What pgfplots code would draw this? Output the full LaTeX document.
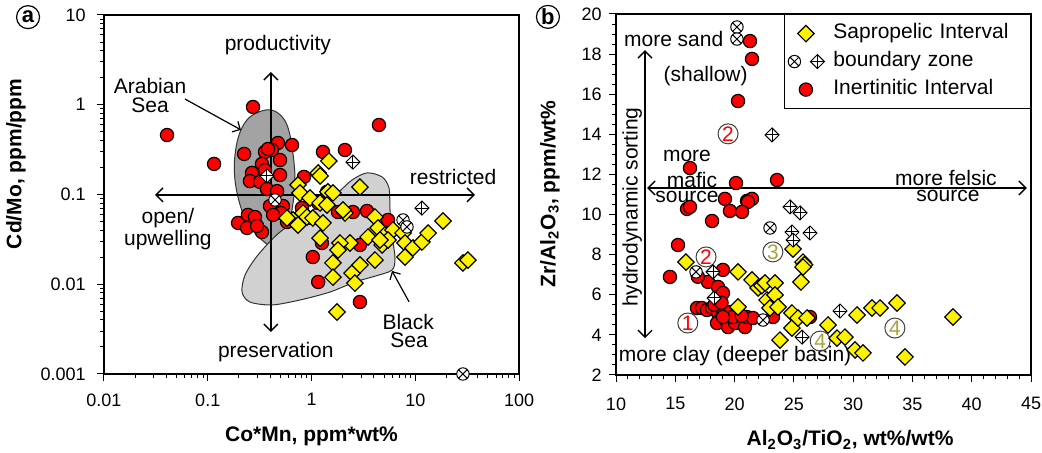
\documentclass[border=0pt]{standalone}
\usepackage{fontspec}
\setmainfont{Liberation Sans}
\usepackage{pgfplots}
\pgfplotsset{compat=1.18}
\usetikzlibrary{arrows.meta,plotmarks}

\definecolor{arabfield}{gray}{0.64}
\definecolor{bsfield}{gray}{0.82}
\definecolor{numolive}{RGB}{165,165,60}

% diamond drawn as a square turned on its corner
\pgfdeclareplotmark{dmd}{%
  \pgfpathmoveto{\pgfqpoint{0pt}{\pgfplotmarksize}}%
  \pgfpathlineto{\pgfqpoint{\pgfplotmarksize}{0pt}}%
  \pgfpathlineto{\pgfqpoint{0pt}{-\pgfplotmarksize}}%
  \pgfpathlineto{\pgfqpoint{-\pgfplotmarksize}{0pt}}%
  \pgfpathclose
  \pgfusepathqfillstroke}
% same diamond with a cross through the corners
\pgfdeclareplotmark{dplus}{%
  \pgfpathmoveto{\pgfqpoint{0pt}{\pgfplotmarksize}}%
  \pgfpathlineto{\pgfqpoint{\pgfplotmarksize}{0pt}}%
  \pgfpathlineto{\pgfqpoint{0pt}{-\pgfplotmarksize}}%
  \pgfpathlineto{\pgfqpoint{-\pgfplotmarksize}{0pt}}%
  \pgfpathclose
  \pgfusepathqfillstroke
  \pgfpathmoveto{\pgfqpoint{0pt}{\pgfplotmarksize}}%
  \pgfpathlineto{\pgfqpoint{0pt}{-\pgfplotmarksize}}%
  \pgfpathmoveto{\pgfqpoint{-\pgfplotmarksize}{0pt}}%
  \pgfpathlineto{\pgfqpoint{\pgfplotmarksize}{0pt}}%
  \pgfusepathqstroke}

\pgfplotsset{
  panel/.style={
    scale only axis, clip=false,
    axis line style={line width=0.8pt},
    tick align=outside, xtick pos=left, ytick pos=left,
    major tick length=3.7pt, minor tick length=2pt,
    every tick/.style={black, line width=0.5pt},
    tick label style={font=\fontsize{9}{10}\selectfont},
    /pgf/number format/assume math mode=true,
    label style={font=\bfseries\fontsize{10.5}{12}\selectfont},
  },
  inert/.style={only marks, mark=*, mark size=3.3pt,
    mark options={fill=red, draw=black, line width=0.6pt}},
  sapro/.style={only marks, mark=dmd, mark size=4.1pt,
    mark options={fill=yellow, draw=black, line width=0.6pt}},
  bzcirc/.style={only marks, mark=otimes*, mark size=3.1pt,
    mark options={fill=white, draw=black, line width=0.5pt}},
  bzdmd/.style={only marks, mark=dplus, mark size=3.5pt,
    mark options={fill=white, draw=black, line width=0.5pt}},
}

\tikzset{
  ann/.style={font=\fontsize{10.5}{11}\selectfont, inner sep=0pt},
  arr/.style={line width=0.7pt, {Straight Barb[length=3.5pt,width=7pt]}-{Straight Barb[length=3.5pt,width=7pt]}},
  num/.style={circle, draw=black!75, line width=0.5pt, minimum size=10pt, inner sep=0pt,
    font=\fontsize{10.5}{10.5}\selectfont},
  plab/.style={circle, draw=black, line width=0.6pt, minimum size=11.5pt, inner sep=0pt,
    font=\bfseries\fontsize{11}{11}\selectfont},
}

\begin{document}
\begin{tikzpicture}
\useasboundingbox (-52pt,-39.5pt) rectangle (469pt,187pt);

% ---------------- panel a ----------------
\begin{axis}[panel,
  at={(0pt,0pt)}, anchor=south west,
  width=207.5pt, height=179.5pt,
  xmode=log, ymode=log,
  xmin=0.01, xmax=100, ymin=0.001, ymax=10,
  xtick={0.01,0.1,1,10,100}, xticklabels={0.01,0.1,1,10,100},
  ytick={0.001,0.01,0.1,1,10}, yticklabels={0.001,0.01,0.1,1,10},
  xticklabel style={yshift=-2.5pt},
  yticklabel style={xshift=-2pt},
  xlabel={Co*Mn, ppm*wt\%},
  ylabel={Cd/Mo, ppm/ppm},
  xlabel style={at={(axis description cs:0.5,-0.175)}, anchor=center},
  ylabel style={at={(axis description cs:-0.212,0.585)}, anchor=center},
]
% Arabian Sea field
\draw[fill=arabfield, draw=black!80, line width=0.5pt] plot[smooth cycle, tension=0.6] coordinates {
  (axis cs:0.364,0.875) (axis cs:0.475,0.809) (axis cs:0.581,0.595) (axis cs:0.649,0.339)
  (axis cs:0.693,0.157) (axis cs:0.664,0.0804) (axis cs:0.581,0.0402) (axis cs:0.445,0.026)
  (axis cs:0.333,0.0311) (axis cs:0.244,0.0469) (axis cs:0.205,0.0764) (axis cs:0.183,0.145)
  (axis cs:0.183,0.275) (axis cs:0.205,0.497) (axis cs:0.255,0.73)};
% Black Sea field
\draw[fill=bsfield, draw=black!80, line width=0.5pt] plot[smooth cycle, tension=0.5] coordinates {
  (axis cs:3.43,0.174) (axis cs:4.79,0.157) (axis cs:5.58,0.118) (axis cs:5.71,0.0672)
  (axis cs:5.97,0.0354) (axis cs:6.38,0.0196) (axis cs:5.97,0.0144) (axis cs:4.09,0.0123)
  (axis cs:2.62,0.0106) (axis cs:1.51,0.0082) (axis cs:0.775,0.00668) (axis cs:0.416,0.00588)
  (axis cs:0.255,0.00634) (axis cs:0.214,0.0082) (axis cs:0.229,0.0127) (axis cs:0.305,0.0212)
  (axis cs:0.497,0.0382) (axis cs:0.968,0.0638) (axis cs:1.69,0.099) (axis cs:2.46,0.145)};

\addplot[inert] coordinates {
(0.0405,0.46) (0.115,0.219) (0.273,0.944) (4.47,0.595) (0.224,0.283) (0.475,0.375)
(0.649,0.356) (0.356,0.298) (0.416,0.313) (0.381,0.321) (0.497,0.242) (0.333,0.219)
(0.267,0.174) (0.255,0.141) (0.497,0.165) (0.319,0.138) (0.372,0.115) (0.466,0.109)
(0.356,0.187) (0.398,0.0744) (0.531,0.0744) (0.508,0.0622) (0.581,0.0494) (0.426,0.0592)
(0.196,0.0482) (0.244,0.0592) (0.285,0.0561) (0.239,0.0424) (0.333,0.0382) (0.299,0.0446)
(1.29,0.298) (2.10,0.313) (0.846,0.157) (1.41,0.107) (1.16,0.0804) (0.809,0.0708)
(1.01,0.0547) (1.80,0.0638) (2.51,0.0638) (3.43,0.0655) (5.46,0.052) (1.26,0.0288)
(1.03,0.0201) (2.93,0.0274) (1.16,0.0106) (2.93,0.00634)
};
\addplot[sapro] coordinates {
(1.47,0.236) (1.16,0.174) (1.21,0.161) (2.93,0.121) (0.741,0.128) (0.775,0.104)
(0.968,0.0914) (1.44,0.107) (1.61,0.104) (1.21,0.0804) (0.828,0.0622) (0.664,0.052)
(0.906,0.0561) (1.03,0.0547) (1.29,0.0482) (2.10,0.0622) (2.01,0.0672) (4.09,0.0561)
(4.38,0.0424) (5.11,0.0354) (6.10,0.0402) (3.51,0.0336) (2.35,0.0288) (1.88,0.0288)
(1.21,0.0327) (1.80,0.0241) (4.79,0.0274) (5.46,0.0311) (7.62,0.0372) (7.96,0.0288)
(9.5,0.0254) (7.96,0.0201) (11.6,0.0296) (13.3,0.0372) (18.5,0.0507) (1.61,0.0173)
(2.46,0.0133) (2.93,0.0164) (4.09,0.0186) (1.61,0.012) (2.62,0.0103) (1.76,0.00491)
(28.8,0.0173) (32.2,0.0186) (0.581,0.0547) (1.41,0.0764) (0.741,0.0457) (4.57,0.0311)
};
\addplot[bzcirc] coordinates {(0.445,0.0869) (7.62,0.052) (8.32,0.0435) (28.8,0.001)};
\addplot[bzdmd] coordinates {(0.372,0.161) (2.51,0.230) (11.6,0.0706)};

% process arrows and labels
\draw[arr] (rel axis cs:0.402,0.841) -- (rel axis cs:0.402,0.117);
\draw[arr] (rel axis cs:0.123,0.499) -- (rel axis cs:0.894,0.499);
\node[ann] at (rel axis cs:0.419,0.916) {productivity};
\node[ann] at (rel axis cs:0.841,0.549) {restricted};
\node[ann] at (rel axis cs:0.154,0.435) {open/};
\node[ann] at (rel axis cs:0.154,0.373) {upwelling};
\node[ann] at (rel axis cs:0.414,0.061) {preservation};
\node[ann] at (rel axis cs:0.111,0.802) {Arabian};
\node[ann] at (rel axis cs:0.111,0.749) {Sea};
\node[ann] at (rel axis cs:0.733,0.145) {Black};
\node[ann] at (rel axis cs:0.735,0.095) {Sea};
\draw[line width=0.6pt, -{Straight Barb[length=3pt,width=6pt]}] (rel axis cs:0.195,0.766) -- (rel axis cs:0.330,0.680);
\draw[line width=0.6pt, -{Straight Barb[length=3pt,width=6pt]}] (rel axis cs:0.735,0.201) -- (rel axis cs:0.694,0.287);
\node[plab] at (rel axis cs:-0.183,0.994) {a};
\end{axis}

% ---------------- panel b ----------------
\begin{axis}[panel,
  at={(256pt,-0.5pt)}, anchor=south west,
  width=207.5pt, height=180.5pt,
  xmin=10, xmax=45, ymin=2, ymax=20,
  xtick={10,15,...,45}, ytick={2,4,...,20},
  minor x tick num=4, minor y tick num=3,
  xticklabel style={yshift=-4pt},
  xlabel={Al\textsubscript{2}O\textsubscript{3}/TiO\textsubscript{2}, wt\%/wt\%},
  ylabel={Zr/Al\textsubscript{2}O\textsubscript{3}, ppm/wt\%},
  xlabel style={at={(axis description cs:0.564,-0.180)}, anchor=center},
  ylabel style={at={(axis description cs:-0.159,0.501)}, anchor=center},
  legend style={at={(1,1)}, anchor=north east, draw=black, line width=0.6pt,
    inner xsep=2pt, inner ysep=2.5pt, row sep=0pt, column sep=1pt,
    font=\fontsize{10.5}{12}\selectfont,
    nodes={text height=7.5pt, text depth=2.5pt, inner ysep=2pt, inner xsep=3.5pt, text width=93pt, align=left}},
  legend cell align=left,
]
\addlegendimage{legend image code/.code={
  \draw plot[only marks, mark=dmd, mark size=4.1pt, mark options={fill=yellow, draw=black, line width=0.6pt}] coordinates {(0pt,0pt)};}}
\addlegendentry{Sapropelic Interval}
\addlegendimage{legend image code/.code={
  \draw plot[only marks, mark=otimes*, mark size=3.1pt, mark options={fill=white, draw=black, line width=0.5pt}] coordinates {(-5.75pt,0pt)};
  \draw plot[only marks, mark=dplus, mark size=3.5pt, mark options={fill=white, draw=black, line width=0.5pt}] coordinates {(5.75pt,0pt)};}}
\addlegendentry{boundary zone}
\addlegendimage{legend image code/.code={
  \draw plot[only marks, mark=*, mark size=3.3pt, mark options={fill=red, draw=black, line width=0.6pt}] coordinates {(0pt,0pt)};}}
\addlegendentry{Inertinitic Interval}

\addplot[inert, forget plot] coordinates {
(21.30,18.65) (21.47,17.76) (20.29,15.66) (16.24,12.32) (20.12,11.57) (23.58,11.72)
(19.19,10.78) (21.05,10.68) (21.47,10.78) (21.13,10.63) (19.61,10.18) (20.63,10.13)
(15.99,10.28) (16.24,10.38) (18.10,9.68) (15.23,8.48) (14.55,6.89) (19.02,7.24)
(17.76,6.64) (18.60,6.39) (19.02,6.09) (16.9,6.9) (16.83,5.34) (17.25,5.34) (17.67,5.24)
(18.10,5.34) (18.60,5.09) (19.02,5.24) (19.61,5.14) (20.20,5.09) (18.77,4.74)
(18.52,4.59) (19.36,4.64) (19.45,4.39) (20.04,4.59) (20.88,4.39) (21.05,4.89)
(21.55,4.84) (19.87,4.89) (19.02,4.89) (18.3,5.5) (18.9,5.6) (20.6,4.95)
(23.24,4.89) (26.36,4.89)
};
\addplot[sapro, forget plot] coordinates {
(15.90,7.63) (20.29,7.14) (21.47,6.74) (21.98,6.34) (22.3,6.45) (22.57,6.59) (23.41,6.59)
(22.74,5.74) (23.41,5.99) (22.99,5.34) (23.66,5.39) (20.29,5.39) (23.83,3.74)
(24.84,5.09) (24.84,4.34) (25.35,4.84) (26.11,4.84) (24.93,8.28) (25.77,7.63)
(25.9,7.5) (25.77,7.38) (25.6,6.64) (27.88,4.49) (28.64,3.84) (29.31,3.89) (30.33,4.99)
(30.16,3.25) (30.83,3.10) (31.59,5.34) (32.27,5.34) (33.70,5.59) (34.37,2.90)
(38.42,4.89)
};
\addplot[bzcirc, forget plot] coordinates {
(20.20,19.35) (20.20,18.75) (16.75,7.14) (22.40,4.74) (22.99,9.33)
};
\addplot[bzdmd, forget plot] coordinates {
(23.16,13.97) (24.68,10.38) (25.52,10.08) (24.84,9.13) (26.36,9.08) (24.93,8.73)
(28.89,5.19) (25.69,3.89) (18.18,7.14) (18.27,5.84)
};

\draw[arr] (rel axis cs:0.070,0.900) -- (rel axis cs:0.070,0.102);
\draw[arr] (rel axis cs:0.075,0.518) -- (rel axis cs:0.990,0.518);
\node[ann] at (rel axis cs:0.139,0.931) {more sand};
\node[ann] at (rel axis cs:0.216,0.828) {(shallow)};
\node[ann] at (rel axis cs:0.171,0.607) {more};
\node[ann] at (rel axis cs:0.183,0.540) {mafic};
\node[ann] at (rel axis cs:0.171,0.493) {source};
\node[ann] at (rel axis cs:0.795,0.546) {more felsic};
\node[ann] at (rel axis cs:0.800,0.496) {source};
\node[ann] at (rel axis cs:0.287,0.053) {more clay (deeper basin)};
\node[ann, rotate=90] at (rel axis cs:0.039,0.465) {hydrodynamic sorting};
\node[num, text=red] at (rel axis cs:0.270,0.668) {2};
\node[num, text=red] at (rel axis cs:0.217,0.327) {2};
\node[num, text=red] at (rel axis cs:0.173,0.144) {1};
\node[num, text=numolive] at (rel axis cs:0.378,0.341) {3};
\node[num, text=numolive] at (rel axis cs:0.492,0.094) {4};
\node[num, text=numolive] at (rel axis cs:0.672,0.130) {4};
\node[plab] at (rel axis cs:-0.164,0.992) {b};
\end{axis}
\end{tikzpicture}
\end{document}
